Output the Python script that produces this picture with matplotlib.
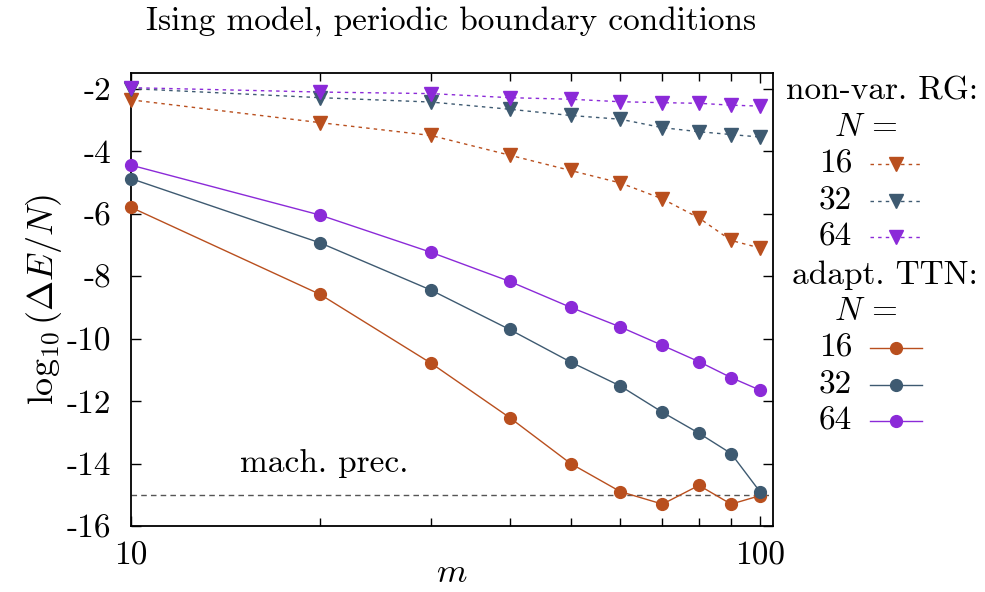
import numpy as np
import matplotlib
matplotlib.use("Agg")
import matplotlib.pyplot as plt
from matplotlib.lines import Line2D

plt.rcParams['font.family'] = ['cmr10', 'DejaVu Serif']
plt.rcParams['mathtext.fontset'] = 'cm'
plt.rcParams['axes.unicode_minus'] = False
plt.rcParams['axes.formatter.use_mathtext'] = True

# data
m = [10, 20, 30, 40, 50, 60, 70, 80, 90, 100]
rg_16 = [-2.36, -3.09, -3.50, -4.13, -4.62, -5.02, -5.53, -6.14, -6.86, -7.10]
rg_32 = [-2.00, -2.29, -2.43, -2.66, -2.86, -2.98, -3.25, -3.38, -3.47, -3.55]
rg_64 = [-1.97, -2.11, -2.16, -2.29, -2.34, -2.42, -2.45, -2.47, -2.53, -2.56]
ttn_16 = [-5.80, -8.59, -10.79, -12.53, -14.00, -14.90, -15.30, -14.70, -15.30, -15.03]
ttn_32 = [-4.88, -6.94, -8.45, -9.71, -10.75, -11.52, -12.36, -13.03, -13.68, -14.90]
ttn_64 = [-4.45, -6.05, -7.24, -8.17, -9.00, -9.63, -10.22, -10.74, -11.25, -11.65]
sizes = ['16', '32', '64']
mach_prec = -15

c_or = '#b94f1e'
c_bl = '#3e5a71'
c_pu = '#8b2ad8'
cols = [c_or, c_bl, c_pu]
fs = 24

fig = plt.figure(figsize=(9.85, 5.92), dpi=100)
ax = fig.add_axes([0.133, 0.1115, 0.652, 0.7652])

for ys, c in zip([rg_16, rg_32, rg_64], cols):
    ax.plot(m, ys, ls=(0, (2.5, 3)), lw=1.0, color=c, marker='v', ms=10,
            mec=c, mfc=c, clip_on=False, zorder=3)
for ys, c in zip([ttn_16, ttn_32, ttn_64], cols):
    ax.plot(m, ys, ls='-', lw=1.0, color=c, marker='o', ms=8.5,
            mec=c, mfc=c, clip_on=False, zorder=3)

ax.axhline(mach_prec, color='#555555', lw=1.0, ls=(0, (4, 3)), zorder=1)
ax.text(14.9, -14.0, 'mach. prec.', fontsize=fs, va='center', ha='left')

ax.set_xscale('log')
ax.set_xlim(10, 105)
ax.set_ylim(-16, -1.5)
ax.set_xticks([10, 100])
ax.set_xticklabels(['10', '100'])
ax.set_xticks(m[1:-1], minor=True)
ax.set_xticklabels([], minor=True)
ax.set_yticks(np.arange(-16, -1, 2))
ax.set_yticklabels([str(v) for v in range(-16, -1, 2)])
ax.tick_params(which='both', direction='in', top=True, right=True,
               labelsize=fs, width=1.0)
ax.tick_params(axis='y', pad=14)
ax.tick_params(axis='x', pad=11)
ax.tick_params(which='major', length=7.5)
ax.tick_params(which='minor', length=5.5)
for s in ax.spines.values():
    s.set_linewidth(1.3)

ax.set_xlabel('$m$', fontsize=25, labelpad=-9)
ax.set_ylabel(r'$\log_{10}(\Delta E/N)$', fontsize=26, labelpad=2)
fig.text(0.458, 0.965, 'Ising model, periodic boundary conditions',
         fontsize=fs, ha='center', va='center')

# legend drawn by hand, gnuplot style
def legend_block(y0, header, ls, mk):
    fig.text(978 / 985, 1 - y0 / 592, header, fontsize=fs, ha='right', va='center')
    fig.text(866 / 985, 1 - (y0 + 36.5) / 592, '$N$ =', fontsize=fs, ha='center', va='center')
    for i, (lab, c) in enumerate(zip(sizes, cols)):
        yy = 1 - (y0 + 36.5 * (i + 2)) / 592
        fig.text(852 / 985, yy, lab, fontsize=fs, ha='right', va='center')
        fig.add_artist(Line2D([870 / 985, 922 / 985], [yy, yy], color=c, lw=1.0, ls=ls,
                              transform=fig.transFigure))
        fig.add_artist(Line2D([896 / 985], [yy], color=c, marker=mk, ms=8.5 if mk == 'o' else 10,
                              ls='none', transform=fig.transFigure))

legend_block(91, 'non-var. RG:', (0, (2.5, 3)), 'v')
legend_block(275, 'adapt. TTN:', '-', 'o')

fig.savefig('out.png', dpi=100)
